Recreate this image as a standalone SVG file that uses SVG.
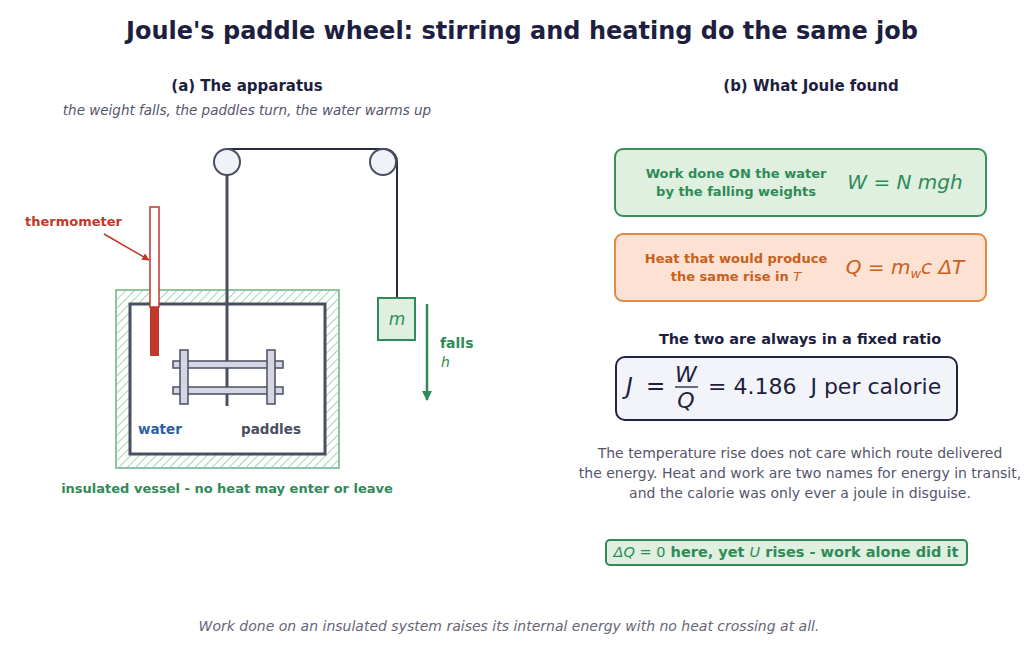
<svg xmlns="http://www.w3.org/2000/svg" width="1024" height="653" viewBox="0 0 1024 653">
<style>
text{font-family:"DejaVu Sans","Liberation Sans",sans-serif}
.b{font-weight:bold}
.i{font-style:italic}
.g{fill:#2e8b57}
.o{fill:#c8601e}
.d{fill:#1e1e3f}
.s{fill:#55556a}
</style>
<defs>
<pattern id="hatch" width="6" height="6" patternUnits="userSpaceOnUse" patternTransform="rotate(45)">
<rect width="6" height="6" fill="#fff"/><line x1="0" y1="0" x2="0" y2="6" stroke="#8fc4a0" stroke-width="1.5"/>
</pattern>
<marker id="ar" viewBox="0 0 10 10" refX="9" refY="5" markerWidth="5" markerHeight="5" orient="auto"><path d="M0,0L10,5L0,10z" fill="#c0392b"/></marker>
<marker id="ag" viewBox="0 0 10 10" refX="9" refY="5" markerWidth="4" markerHeight="4" orient="auto"><path d="M0,0L10,5L0,10z" fill="#2e8b57"/></marker>
</defs>
<rect width="1024" height="653" fill="#fff"/>
<text x="522" y="39" text-anchor="middle" class="b d" font-size="24">Joule's paddle wheel: stirring and heating do the same job</text>
<text x="247" y="91" text-anchor="middle" class="b d" font-size="15">(a) The apparatus</text>
<text x="247" y="115" text-anchor="middle" class="i s" font-size="13.5">the weight falls, the paddles turn, the water warms up</text>
<text x="811" y="91" text-anchor="middle" class="b d" font-size="15">(b) What Joule found</text>
<g id="vessel">
<rect x="116" y="290" width="223" height="178" fill="url(#hatch)" stroke="#8fc4a0" stroke-width="2"/>
<rect x="130" y="304" width="195" height="150" fill="#fff" stroke="#4a4f60" stroke-width="3"/>
<text x="227" y="493" text-anchor="middle" class="b g" font-size="13">insulated vessel - no heat may enter or leave</text>
<text x="138" y="434" class="b" fill="#2e5fa0" font-size="13.5">water</text>
<text x="241" y="434" class="b" fill="#4a4f60" font-size="13.5">paddles</text>
</g>
<g id="rope">
<path d="M227,149H383M397,162V298" fill="none" stroke="#2a2a40" stroke-width="2"/>
<path d="M383,149A13,13 0 0 1 397,162" fill="none" stroke="#2a2a40" stroke-width="2"/>
<line x1="227" y1="175" x2="227" y2="406" stroke="#4a5060" stroke-width="3"/>
</g>
<g id="pulleys">
<circle cx="227" cy="162" r="13" fill="#f0f2f8" stroke="#4a4f60" stroke-width="2"/>
<circle cx="383" cy="162" r="13" fill="#f0f2f8" stroke="#4a4f60" stroke-width="2"/>
</g>
<g id="paddles" fill="#d4d6e4" stroke="#4a4f60" stroke-width="1.5">
<rect x="173" y="361" width="110" height="7"/>
<rect x="173" y="387" width="110" height="7"/>
<rect x="180" y="350" width="8" height="54"/>
<rect x="267" y="350" width="8" height="54"/>
</g>
<g id="thermometer">
<rect x="150" y="207" width="9" height="100" fill="#fff" stroke="#c0392b" stroke-width="1.5"/>
<rect x="150" y="307" width="9" height="49" fill="#c0392b"/>
<text x="25" y="226" class="b" fill="#c0392b" font-size="13">thermometer</text>
<line x1="104" y1="234" x2="149" y2="260" stroke="#c0392b" stroke-width="1.5" marker-end="url(#ar)"/>
</g>
<g id="mass">
<rect x="378" y="298" width="37" height="42" fill="#dff0e0" stroke="#2e8b57" stroke-width="2"/>
<text x="397" y="325" text-anchor="middle" class="i g" font-size="17">m</text>
<line x1="427" y1="304" x2="427" y2="400" stroke="#2e8b57" stroke-width="2.5" marker-end="url(#ag)"/>
<text x="440" y="348" class="b g" font-size="14">falls</text>
<text x="441" y="367" class="i g" font-size="14">h</text>
</g>
<g id="work">
<rect x="615" y="149" width="371" height="67" rx="8" fill="#dff0e0" stroke="#3a8f5a" stroke-width="2"/>
<text x="736" y="178" text-anchor="middle" class="b g" font-size="13">Work done ON the water</text>
<text x="736" y="196" text-anchor="middle" class="b g" font-size="13">by the falling weights</text>
<text x="905" y="189" text-anchor="middle" class="i g" font-size="20">W = N mgh</text>
</g>
<g id="heat">
<rect x="615" y="234" width="371" height="67" rx="8" fill="#fde2d3" stroke="#e08a45" stroke-width="2"/>
<text x="736" y="263" text-anchor="middle" class="b o" font-size="13">Heat that would produce</text>
<text x="736" y="281" text-anchor="middle" class="b o" font-size="13">the same rise in <tspan class="i" font-weight="normal">T</tspan></text>
<text x="905" y="274" text-anchor="middle" class="i o" font-size="20">Q = m<tspan font-size="13" dy="4">w</tspan><tspan dy="-4">c ΔT</tspan></text>
</g>
<text x="800" y="344" text-anchor="middle" class="b d" font-size="14.5">The two are always in a fixed ratio</text>
<g id="ratio">
<rect x="616" y="357" width="341" height="63" rx="9" fill="#f3f4fa" stroke="#232344" stroke-width="2"/>
<text x="626" y="394" class="i d" font-size="23">J</text>
<text x="646" y="394" class="d" font-size="23">=</text>
<text x="686" y="382" text-anchor="middle" class="i d" font-size="22">W</text>
<line x1="675" y1="387" x2="698" y2="387" stroke="#1e1e3f" stroke-width="1.3"/>
<text x="686" y="408" text-anchor="middle" class="i d" font-size="22">Q</text>
<text x="708" y="394" class="d" font-size="22" xml:space="preserve">= 4.186  J per calorie</text>
</g>
<g id="text" class="s" font-size="14" text-anchor="middle">
<text x="800" y="458">The temperature rise does not care which route delivered</text>
<text x="800" y="478">the energy. Heat and work are two names for energy in transit,</text>
<text x="800" y="498">and the calorie was only ever a joule in disguise.</text>
</g>
<g id="note">
<rect x="606" y="540" width="361" height="25" rx="4" fill="#dff0e0" stroke="#2e8b57" stroke-width="2"/>
<text x="786" y="557" text-anchor="middle" class="b g" font-size="14.5"><tspan font-weight="normal" class="i">ΔQ</tspan><tspan font-weight="normal"> = 0</tspan> here, yet <tspan font-weight="normal" class="i">U</tspan> rises - work alone did it</text>
</g>
<text x="509" y="631" text-anchor="middle" class="i" fill="#666677" font-size="14">Work done on an insulated system raises its internal energy with no heat crossing at all.</text>
</svg>
